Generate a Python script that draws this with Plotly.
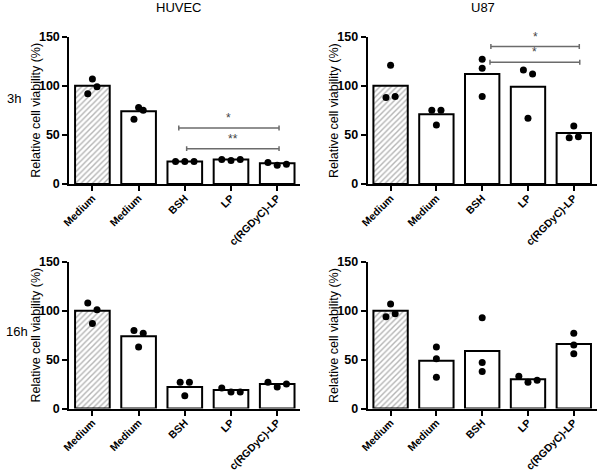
import plotly.graph_objects as go

# ---------------- data ----------------
categories = ["Medium", "Medium", "BSH", "LP", "c(RGDyC)-LP"]
col_titles = ["HUVEC", "U87"]
row_titles = ["3h", "16h"]
y_ticks = [0, 50, 100, 150]
y_title = "Relative cell viability (%)"

huvec_3h_bars = [100, 74, 23, 25, 21]
huvec_3h_points = [[107, 99, 92], [78, 75, 66], [23, 23, 23], [25, 24, 25], [22, 19, 20]]
huvec_3h_offsets = [[0, 0.1, -0.1], [0, 0.1, -0.1], [-0.2, 0, 0.2], [-0.2, 0, 0.2], [-0.2, 0, 0.2]]

u87_3h_bars = [100, 71, 112, 99, 52]
u87_3h_points = [[121, 88, 89], [75, 75, 60], [127, 118, 89], [116, 112, 67], [59, 47, 48]]
u87_3h_offsets = [[0, -0.1, 0.1], [-0.1, 0.1, 0], [0, 0, 0], [-0.1, 0.1, 0], [0, -0.1, 0.1]]

huvec_16h_bars = [100, 74, 22, 19, 25]
huvec_16h_points = [[108, 101, 87], [80, 77, 63], [27, 27, 13], [21, 17, 17], [27, 22, 25]]
huvec_16h_offsets = [[-0.1, 0.1, 0], [-0.1, 0.1, 0], [-0.1, 0.1, 0], [-0.2, 0, 0.2], [-0.2, 0, 0.2]]

u87_16h_bars = [100, 49, 59, 30, 66]
u87_16h_points = [[107, 94, 97], [63, 51, 32], [93, 47, 38], [33, 27, 29], [77, 65, 56]]
u87_16h_offsets = [[0, -0.1, 0.1], [0, 0, 0], [0, 0, 0], [-0.2, 0, 0.2], [0, 0, 0]]

# significance brackets: (from category, to category, height, label)
huvec_3h_sig = [(1.87, 4.04, 57, "*"), (2.04, 4.04, 36, "**")]
u87_3h_sig = [(2.19, 4.12, 140, "*"), (2.17, 4.13, 124, "*")]

# ---------------- layout geometry ----------------
FONT = "Arial, Liberation Sans, sans-serif"
x_domains = [[0.1155, 0.5005], [0.6128, 0.9945]]
y_domains = [[0.6102, 0.9222], [0.1345, 0.4449]]

panels = [
    (0, 0, huvec_3h_bars, huvec_3h_points, huvec_3h_offsets, huvec_3h_sig),
    (0, 1, u87_3h_bars, u87_3h_points, u87_3h_offsets, u87_3h_sig),
    (1, 0, huvec_16h_bars, huvec_16h_points, huvec_16h_offsets, []),
    (1, 1, u87_16h_bars, u87_16h_points, u87_16h_offsets, []),
]

fig = go.Figure()
shapes = []
annotations = []
layout = {}

for idx, (r, c, bars, pts, offs, sigs) in enumerate(panels):
    n = idx + 1
    xa = "x" if n == 1 else f"x{n}"
    ya = "y" if n == 1 else f"y{n}"
    xs = list(range(len(categories)))
    patterns = ["/"] + [""] * (len(categories) - 1)
    fig.add_trace(go.Bar(
        x=xs, y=bars, width=0.75, xaxis=xa, yaxis=ya,
        marker=dict(color="white", line=dict(color="black", width=2),
                    pattern=dict(shape=patterns, fgcolor="#6a6a6a", bgcolor="white",
                                 size=4, solidity=0.35)),
        showlegend=False, hoverinfo="y",
    ))
    px, py = [], []
    for i, (vals, o) in enumerate(zip(pts, offs)):
        for v, d in zip(vals, o):
            px.append(i + d)
            py.append(v)
    fig.add_trace(go.Scatter(
        x=px, y=py, mode="markers", xaxis=xa, yaxis=ya, cliponaxis=False,
        marker=dict(color="black", size=7), showlegend=False,
    ))
    xkey = "xaxis" if n == 1 else f"xaxis{n}"
    ykey = "yaxis" if n == 1 else f"yaxis{n}"
    layout[xkey] = dict(
        domain=x_domains[c], anchor=ya, range=[-0.5, 4.5], automargin=False,
        tickmode="array", tickvals=xs, ticktext=categories, tickangle=-45,
        ticklabelstandoff=-3,
        showline=True, linecolor="black", linewidth=2,
        ticks="outside", ticklen=5, tickwidth=2, tickcolor="black",
        showgrid=False, zeroline=False,
        tickfont=dict(family=FONT, size=10.5, color="black", weight="bold"),
    )
    layout[ykey] = dict(
        domain=y_domains[r], anchor=xa, range=[0, 150], automargin=False,
        tickmode="array", tickvals=y_ticks,
        showline=True, linecolor="black", linewidth=2,
        ticks="outside", ticklen=5, tickwidth=2, tickcolor="black",
        showgrid=False, zeroline=False,
        tickfont=dict(family=FONT, size=12.5, color="black", weight="bold"),
    )
    # y-axis title
    annotations.append(dict(
        text=y_title, textangle=-90, xref=f"{xa} domain", yref=f"{ya} domain",
        x=0, y=0.5, xshift=-33, showarrow=False, xanchor="center", yanchor="middle",
        font=dict(family=FONT, size=12.5, color="black"),
    ))
    # significance brackets
    for (a, b, h, lab) in sigs:
        gray = "#6b6b6b"
        shapes.append(dict(type="line", xref=xa, yref=ya, x0=a, x1=b, y0=h, y1=h,
                           line=dict(color=gray, width=1.5)))
        for xe in (a, b):
            shapes.append(dict(type="line", xref=xa, yref=ya, x0=xe, x1=xe, y0=h - 2.5, y1=h + 2.5,
                               line=dict(color=gray, width=1.5)))
        annotations.append(dict(text=lab, xref=xa, yref=ya, x=(a + b) / 2, y=h,
                                yshift=1, showarrow=False, yanchor="bottom",
                                font=dict(family=FONT, size=12, color="#444")))

# column titles
for c, t in enumerate(col_titles):
    annotations.append(dict(text=t, xref="paper", yref="paper",
                            x=(179 if c == 0 else 483) / 600, y=1 - 8 / 472,
                            showarrow=False, xanchor="center", yanchor="middle",
                            font=dict(family=FONT, size=13, color="black")))
# row titles
for r, t in enumerate(row_titles):
    annotations.append(dict(text=t, xref="paper", yref="paper",
                            x=(14 if r == 0 else 17) / 600, y=1 - (98 if r == 0 else 331) / 472,
                            showarrow=False, xanchor="center", yanchor="middle",
                            font=dict(family=FONT, size=13, color="black")))

fig.update_layout(
    width=600, height=472, margin=dict(l=0, r=0, t=0, b=0, autoexpand=False),
    paper_bgcolor="white", plot_bgcolor="white",
    shapes=shapes, annotations=annotations, bargap=0.25,
    **layout,
)
fig.write_html("out.html", config={"displayModeBar": False},
               post_script="document.body.style.margin='0';document.body.style.overflow='hidden';")
